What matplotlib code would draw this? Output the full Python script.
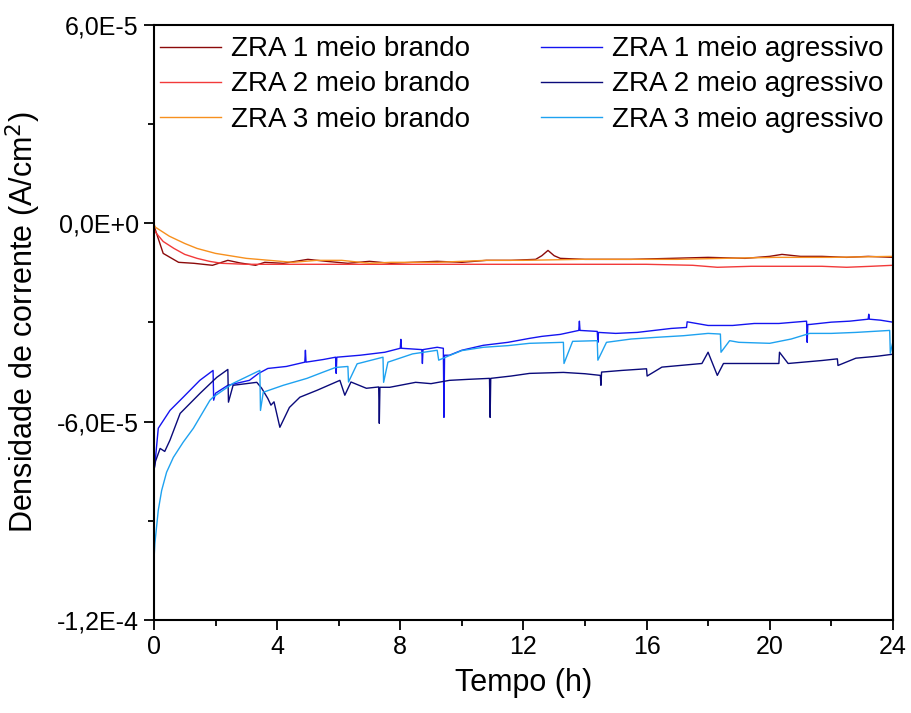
import numpy as np
import matplotlib.pyplot as plt

plt.rcParams['font.family'] = ['Liberation Sans', 'DejaVu Sans']

# current density values in units of 1e-5 A/cm2, time in h
t_b1 = [0, 0.05, 0.3, 0.8, 1.3, 1.9, 2.4, 2.8, 3.3, 3.6, 4.2, 5.0, 5.6, 6.3, 7.0,
        7.7, 8.4, 9.2, 10.0, 10.8, 11.6, 12.4, 12.6, 12.8, 13.0, 13.2, 14.0,
        15.5, 16.8, 18.0, 19.2, 20.0, 20.4, 21.0, 21.7, 22.5, 23.2, 24.0]
v_b1 = [-0.06, -0.21, -0.91, -1.18, -1.21, -1.27, -1.12, -1.20, -1.27, -1.18,
        -1.21, -1.09, -1.15, -1.21, -1.15, -1.21, -1.18, -1.15, -1.18, -1.12,
        -1.12, -1.09, -0.98, -0.82, -0.98, -1.06, -1.09, -1.09, -1.06, -1.03,
        -1.06, -1.00, -0.94, -1.00, -1.00, -1.03, -1.00, -1.03]

t_b2 = [0, 0.05, 0.3, 0.65, 1.0, 1.4, 1.8, 2.2, 3.0, 4.5, 6.0, 8.0, 10.0, 12.0,
        14.0, 16.0, 17.5, 18.3, 19.4, 20.5, 21.7, 22.5, 23.3, 24.0]
v_b2 = [-0.15, -0.27, -0.55, -0.76, -0.94, -1.06, -1.15, -1.21, -1.24, -1.24,
        -1.24, -1.24, -1.24, -1.24, -1.24, -1.24, -1.27, -1.33, -1.30, -1.30,
        -1.30, -1.33, -1.30, -1.27]

t_b3 = [0, 0.05, 0.5, 1.0, 1.4, 2.0, 3.0, 4.5, 5.3, 6.1, 7.0, 7.7, 8.5, 9.2,
        10.0, 10.8, 12.0, 13.9, 15.5, 17.0, 18.5, 20.2, 22.0, 24.0]
v_b3 = [-0.03, -0.12, -0.39, -0.61, -0.76, -0.91, -1.06, -1.18, -1.12, -1.12,
        -1.21, -1.18, -1.18, -1.18, -1.15, -1.12, -1.12, -1.09, -1.09, -1.09,
        -1.06, -1.03, -1.03, -1.00]

t_a1 = [0, 0.05, 0.14, 0.52, 0.95, 1.49, 1.92, 1.94, 2.0, 2.4, 3.1, 3.4, 3.7,
        4.3, 4.9, 4.92, 4.94, 5.5, 5.9, 5.92, 5.94, 6.7, 7.5, 8.0, 8.02, 8.04,
        8.7, 8.72, 8.74, 9.2, 9.4, 9.42, 9.44, 9.6, 10.0, 10.7, 11.5, 12.2,
        12.6, 13.2, 13.8, 13.82, 13.84, 14.4, 14.42, 14.44, 15.0, 15.7, 16.8,
        17.3, 17.32, 18.0, 18.8, 19.5, 20.3, 21.2, 21.22, 21.24, 21.3, 22.0,
        22.6, 23.2, 23.22, 23.24, 23.6, 24.0]
v_a1 = [-7.50, -7.10, -6.20, -5.66, -5.26, -4.75, -4.45, -5.35, -5.14, -4.90,
        -4.75, -4.54, -4.39, -4.33, -4.20, -3.84, -4.20, -4.12, -4.05, -4.54,
        -4.05, -3.99, -3.90, -3.78, -3.51, -3.78, -3.82, -4.24, -3.82, -3.75,
        -3.78, -5.87, -3.99, -3.99, -3.84, -3.69, -3.60, -3.48, -3.42, -3.36,
        -3.24, -2.96, -3.24, -3.27, -3.60, -3.30, -3.33, -3.30, -3.18, -3.15,
        -2.98, -3.09, -3.09, -3.03, -3.03, -2.96, -3.60, -3.06, -3.06, -2.99,
        -2.96, -2.90, -2.75, -2.90, -2.93, -2.99]

t_a2 = [0, 0.05, 0.2, 0.35, 0.52, 0.85, 1.5, 2.04, 2.4, 2.42, 2.57, 3.34, 3.5,
        3.7, 3.8, 3.9, 4.09, 4.4, 4.74, 5.3, 6.04, 6.2, 6.4, 6.9, 7.3, 7.32,
        7.34, 7.66, 8.5, 9.0, 9.6, 10.2, 10.9, 10.92, 10.94, 11.6, 12.2, 13.3,
        14.0, 14.5, 14.52, 14.54, 15.2, 16.0, 16.02, 16.5, 17.8, 18.0, 18.3,
        18.5, 19.5, 20.3, 20.32, 20.6, 21.7, 22.2, 22.22, 22.8, 23.5, 24.0]
v_a2 = [-7.47, -7.20, -6.81, -6.90, -6.56, -5.75, -5.14, -4.66, -4.42, -5.41,
        -4.90, -4.81, -4.99, -5.30, -5.50, -5.40, -6.17, -5.57, -5.26, -5.05,
        -4.75, -5.20, -4.80, -4.99, -4.95, -6.05, -4.96, -4.96, -4.81, -4.85,
        -4.75, -4.72, -4.69, -5.87, -4.69, -4.62, -4.54, -4.51, -4.55, -4.60,
        -4.90, -4.50, -4.45, -4.40, -4.62, -4.35, -4.24, -3.90, -4.60, -4.24,
        -4.24, -4.24, -3.90, -4.24, -4.15, -4.10, -4.30, -4.08, -4.02, -3.96]

t_a3 = [0, 0.03, 0.14, 0.25, 0.41, 0.63, 0.95, 1.28, 1.82, 1.92, 2.57, 3.44,
        3.46, 3.55, 4.2, 4.97, 5.5, 5.9, 6.3, 6.32, 6.6, 7.44, 7.46, 7.6, 8.4,
        9.2, 9.25, 9.6, 10.0, 10.7, 11.5, 12.2, 13.3, 13.32, 13.6, 14.4, 14.42,
        14.7, 15.5, 16.3, 17.2, 18.0, 18.4, 18.42, 18.7, 19.0, 20.0, 20.7, 21.3,
        22.0, 22.8, 23.9, 23.92, 24.0]
v_a3 = [-10.2, -9.68, -8.68, -8.08, -7.53, -7.08, -6.62, -6.20, -5.35, -5.26,
        -4.84, -4.45, -5.66, -5.11, -4.90, -4.69, -4.50, -4.36, -4.33, -4.80,
        -4.25, -4.05, -4.81, -4.20, -3.95, -3.84, -4.14, -4.00, -3.85, -3.75,
        -3.70, -3.63, -3.60, -4.24, -3.57, -3.55, -4.14, -3.60, -3.50, -3.45,
        -3.40, -3.33, -3.35, -3.90, -3.55, -3.60, -3.63, -3.50, -3.33, -3.33,
        -3.30, -3.24, -3.93, -3.60]

series = [
    (t_b1, v_b1, '#8B0A0A', 'ZRA 1 meio brando'),
    (t_b2, v_b2, '#F23A3A', 'ZRA 2 meio brando'),
    (t_b3, v_b3, '#F7901E', 'ZRA 3 meio brando'),
    (t_a1, v_a1, '#1414F0', 'ZRA 1 meio agressivo'),
    (t_a2, v_a2, '#0A0A7A', 'ZRA 2 meio agressivo'),
    (t_a3, v_a3, '#1EA2F0', 'ZRA 3 meio agressivo'),
]

yticks = [-1.2e-4, -6e-5, 0, 6e-5]
ytick_labels = ['-1,2E-4', '-6,0E-5', '0,0E+0', '6,0E-5']
xticks = [0, 4, 8, 12, 16, 20, 24]

fig = plt.figure(figsize=(9.11, 7.13), dpi=100)
ax = fig.add_axes([0.169, 0.1304, 0.811, 0.8346])

# brando in first column, agressivo in second
for t, v, c, lab in series:
    ax.plot(t, np.array(v) * 1e-5, color=c, linewidth=1.0, label=lab)

ax.set_xlim(0, 24)
ax.set_ylim(-1.2e-4, 6e-5)
ax.set_xticks(xticks)
ax.set_xticks([2, 6, 10, 14, 18, 22], minor=True)
ax.set_yticks(yticks)
ax.set_yticklabels(ytick_labels)
ax.set_yticks([-9e-5, -3e-5, 3e-5], minor=True)

ax.tick_params(which='major', direction='out', length=7, width=1.3,
               labelsize=18, pad=4)
ax.tick_params(which='minor', direction='out', length=4, width=1.3)
for s in ax.spines.values():
    s.set_linewidth(1.5)

ax.set_xlabel('Tempo (h)', fontsize=22, labelpad=6)
ax.set_ylabel('Densidade de corrente (A/cm$^2$)', fontsize=22, labelpad=10)

ax.legend(ncol=2, loc='upper left', bbox_to_anchor=(-0.003, 0.995),
          frameon=False, fontsize=20, handlelength=2.2, handletextpad=0.36,
          columnspacing=2.55, labelspacing=0.33, borderaxespad=0.0,
          borderpad=0.3)

fig.savefig('out.png', dpi=100)
